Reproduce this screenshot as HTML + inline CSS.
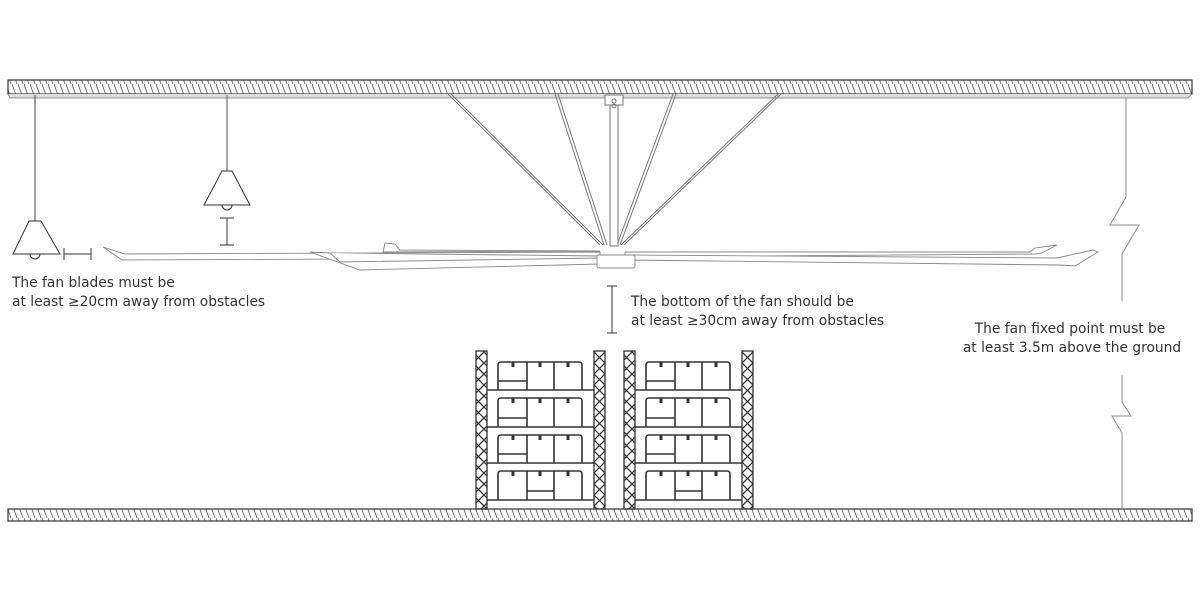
<!DOCTYPE html>
<html><head><meta charset="utf-8"><style>
html,body{margin:0;padding:0;background:#fff;width:1200px;height:600px;overflow:hidden}
text{font-family:"DejaVu Sans","Liberation Sans",sans-serif;font-size:13.8px;fill:#333}
</style></head><body>
<svg width="1200" height="600" viewBox="0 0 1200 600" xmlns="http://www.w3.org/2000/svg">
<defs>
<pattern id="h" width="6" height="14" patternUnits="userSpaceOnUse">
<line x1="0" y1="0" x2="5" y2="14" stroke="#555" stroke-width="0.8"/>
</pattern>
<pattern id="x" width="11" height="11" patternUnits="userSpaceOnUse">
<path d="M0 0L11 11M11 0L0 11" stroke="#333" stroke-width="1.3"/>
</pattern>
</defs>
<rect x="8" y="80" width="1184" height="14" fill="url(#h)" stroke="#333" stroke-width="1.2"/>
<path d="M8 94 L10 98 L1188 98 L1192 94" fill="#ddd" stroke="#777" stroke-width="0.8"/>
<rect x="8" y="509" width="1184" height="12" fill="url(#h)" stroke="#333" stroke-width="1.2"/>

<line x1="35" y1="95" x2="35" y2="221" stroke="#444" stroke-width="1"/>
<path d="M29 221 L41 221 L60 254 L13 254 Z" fill="#fff" stroke="#333" stroke-width="1"/>
<path d="M30 254 A5 5 0 0 0 40 254" fill="none" stroke="#333"/>
<path d="M64 248 V260 M64 254 H91 M91 248 V260" stroke="#333" fill="none"/>
<line x1="227" y1="95" x2="227" y2="171" stroke="#555" stroke-width="1"/>
<path d="M222 171 L232 171 L250 205 L204 205 Z" fill="#fff" stroke="#333" stroke-width="1"/>
<path d="M222 205 A5 5 0 0 0 232 205" fill="none" stroke="#333"/>
<path d="M220 218 H234 M227 218 V245 M220 245 H234" stroke="#333" fill="none"/>

<g stroke="#777" stroke-width="1" fill="none">
<path d="M448 94 L600 245 M451 94 L603 245"/>
<path d="M555 94 L604 245 M558 94 L607 245"/>
<path d="M673 94 L617 245 M676 94 L620 245"/>
<path d="M778 94 L621 245 M781 94 L624 245"/>
<rect x="610" y="96" width="8" height="150" fill="#fff"/>
<rect x="605" y="95" width="18" height="10" fill="#fff"/>
<circle cx="614" cy="101" r="2"/><circle cx="614" cy="106" r="2"/>
</g>
<g stroke="#888" stroke-width="0.9" fill="#fff">
<path d="M103 247 L125 254 L600 252 L600 258 L122 260 Z"/>
<path d="M383 252 L385 243 L395 244 L400 250 L600 251 Z"/>
<path d="M310 252 L330 253 L600 256 L600 264 L360 270 Z"/>
<path d="M625 252 L1030 252 L1035 248 L1057 245 L1042 253 L1035 254 L625 257 Z"/>
<path d="M625 255 L1057 258 L1093 250 L1098 252 L1075 266 L1060 265 L625 260 Z"/>
<path d="M330 253 L340 262 L600 258"/>
<rect x="597" y="255" width="38" height="13" rx="2"/>
</g>

<path d="M607 286 H617 M612 286 V333 M607 333 H617" stroke="#333" fill="none"/>

<path d="M1126 98 V197 L1110 225 L1139 225 L1122 254 V301" stroke="#888" stroke-width="1" fill="none"/>
<path d="M1122 375 V402 L1131 416 L1112 416 L1122 433 V509" stroke="#888" stroke-width="1" fill="none"/>

<g id="shelf" stroke="#333" fill="#fff">
<rect x="476" y="351" width="11" height="158" fill="url(#x)" stroke-width="1.3"/>
<rect x="594" y="351" width="11" height="158" fill="url(#x)" stroke-width="1.3"/>
<g stroke-width="1.6">
<line x1="487" y1="390" x2="594" y2="390"/><line x1="487" y1="427" x2="594" y2="427"/>
<line x1="487" y1="463" x2="594" y2="463"/><line x1="487" y1="500" x2="594" y2="500"/>
<path d="M498 390 V365 Q498 362 501 362 H579 Q582 362 582 365 V390 M527 362 V390 M554 362 V390 M498 381 H527" fill="none"/>
<path d="M498 427 V401 Q498 398 501 398 H579 Q582 398 582 401 V427 M527 398 V427 M554 398 V427 M498 418 H527" fill="none"/>
<path d="M498 463 V438 Q498 435 501 435 H579 Q582 435 582 438 V463 M527 435 V463 M554 435 V463 M498 454 H527" fill="none"/>
<path d="M498 500 V474 Q498 471 501 471 H579 Q582 471 582 474 V500 M527 471 V500 M554 471 V500 M527 491 H554" fill="none"/>
</g>
<g stroke-width="3">
<path d="M513 362 V367 M540 362 V367 M568 362 V367"/>
<path d="M513 398 V403 M540 398 V403 M568 398 V403"/>
<path d="M513 435 V440 M540 435 V440 M568 435 V440"/>
<path d="M513 471 V476 M540 471 V476 M568 471 V476"/>
</g>
</g>
<use href="#shelf" x="148"/>

<text x="12" y="287">The fan blades must be</text>
<text x="12" y="306">at least ≥20cm away from obstacles</text>
<text x="631" y="306">The bottom of the fan should be</text>
<text x="631" y="325">at least ≥30cm away from obstacles</text>
<text x="1070" y="333" text-anchor="middle">The fan fixed point must be</text>
<text x="1072" y="352" text-anchor="middle">at least 3.5m above the ground</text>
</svg>
</body></html>
